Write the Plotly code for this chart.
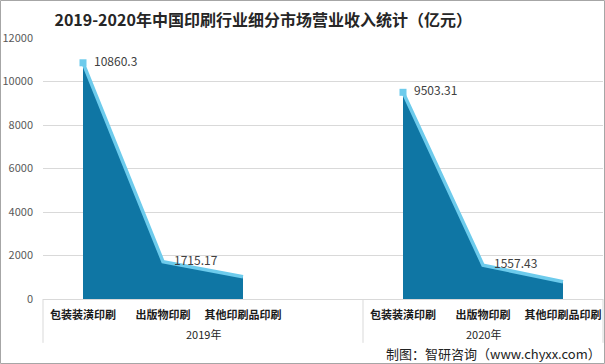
import plotly.graph_objects as go

# ---- data ----
categories = ["包装装潢印刷", "出版物印刷", "其他印刷品印刷"]
years = ["2019年", "2020年"]
values_2019 = [10860.3, 1715.17, 1027.18]
values_2020 = [9503.31, 1557.43, 790.0]
labels_2019 = ["10860.3", "1715.17", ""]
labels_2020 = ["9503.31", "1557.43", ""]
y_ticks = [0, 2000, 4000, 6000, 8000, 10000, 12000]
y_ticktext = ["0", "2000", "4000", "6000", "8000", "10000", "12000"]

# slot layout: 2019 group has 4 slots (last blank), 2020 group 3 slots
x_2019 = [0, 1, 2]
x_2020 = [4, 5, 6]
n_slots = 7

FILL = "#0f76a4"
EDGE = "#6dcbec"
FONT = "Noto Sans CJK SC"

fig = go.Figure()
for xs, vals, labs in [(x_2019, values_2019, labels_2019), (x_2020, values_2020, labels_2020)]:
    fig.add_trace(go.Scatter(
        x=xs, y=vals, mode="lines", fill="tozeroy",
        fillcolor=FILL, line=dict(color=FILL, width=0), hoverinfo="skip",
        showlegend=False))
    fig.add_trace(go.Scatter(
        x=xs, y=vals, mode="lines", line=dict(color=EDGE, width=3.5),
        showlegend=False, hoverinfo="skip"))
    fig.add_trace(go.Scatter(
        x=xs[:1], y=vals[:1], mode="markers",
        marker=dict(color=EDGE, size=7, symbol="square"),
        showlegend=False, hoverinfo="skip"))
    fig.add_trace(go.Scatter(
        x=xs, y=vals, mode="markers+text", text=labs,
        textposition="middle right",
        textfont=dict(family=FONT, size=12, color="#404040"),
        marker=dict(size=16, opacity=0),
        showlegend=False, hoverinfo="skip"))

tickvals = x_2019 + x_2020
ticktext = categories + categories

shapes = []
# group dividers
for bx in [-0.5, 3.5, 6.5]:
    px = (bx + 0.5) / n_slots
    shapes.append(dict(type="line", xref="paper", yref="paper",
                       x0=px, x1=px, y0=0, y1=-0.168,
                       line=dict(color="#d9d9d9", width=1)))
# outer chart border
shapes.append(dict(type="rect", xref="paper", yref="paper",
                   x0=-42.5 / 560, x1=1.5 / 560 + 1, y0=-64.5 / 261, y1=1 + 37.5 / 261,
                   line=dict(color="#a6a6a6", width=1), fillcolor="rgba(0,0,0,0)"))

annotations = []
for i, yr in enumerate(years):
    start = 0 if i == 0 else 4
    end = 4 if i == 0 else 7
    annotations.append(dict(
        x=(start + end) / 2 / n_slots, y=-0.136, xref="paper", yref="paper",
        text=yr, showarrow=False, xanchor="center", yanchor="middle",
        font=dict(family=FONT, size=11, color="#262626")))
annotations.append(dict(
    x=1, y=-0.207, xref="paper", yref="paper",
    text="制图：智研咨询（www.chyxx.com）", showarrow=False,
    xanchor="right", yanchor="middle",
    font=dict(family=FONT, size=13, color="#222222")))

fig.update_layout(
    width=605, height=364,
    margin=dict(l=43, r=2, t=38, b=65),
    paper_bgcolor="white", plot_bgcolor="white",
    title=dict(text="<b>2019-2020年中国印刷行业细分市场营业收入统计（亿元）</b>",
               x=0.435, xanchor="center", y=0.945, yanchor="middle",
               font=dict(family=FONT, size=16, color="#262626")),
    xaxis=dict(range=[-0.5, n_slots - 0.5], tickvals=tickvals, ticktext=ticktext,
               showgrid=False, zeroline=False, showline=True, linecolor="#d9d9d9",
               linewidth=1, ticks="", ticklabelstandoff=6,
               tickfont=dict(family=FONT, size=11, color="#1a1a1a", weight="bold")),
    yaxis=dict(range=[0, 12000], tickvals=y_ticks, ticktext=y_ticktext, showgrid=True,
               gridcolor="#d9d9d9", gridwidth=1, zeroline=False, showline=False,
               ticks="", ticklabelstandoff=9,
               tickfont=dict(family=FONT, size=11, color="#595959")),
    shapes=shapes, annotations=annotations,
)

fig.write_html("out.html", config={"displayModeBar": False},
               post_script="document.body.style.margin='0';document.body.style.overflow='hidden';")
